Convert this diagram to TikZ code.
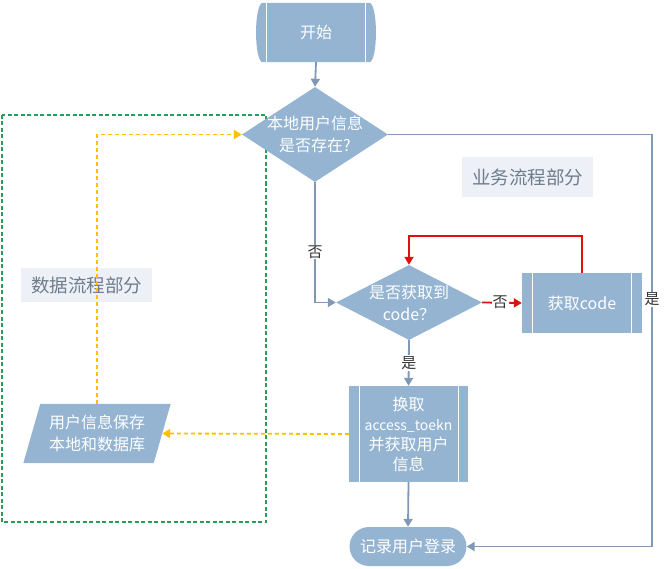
\documentclass[tikz,border=0pt]{standalone}
\usepackage{fontspec}
\setmainfont{Noto Sans CJK SC}
\usetikzlibrary{shapes.geometric,arrows.meta,backgrounds}
\definecolor{nodefill}{HTML}{94B4D2}
\definecolor{conn}{HTML}{7F98B4}
\definecolor{redc}{HTML}{E01010}
\definecolor{yellowc}{HTML}{FFC000}
\definecolor{greenc}{HTML}{22A05A}
\definecolor{labelbg}{HTML}{EDF1F7}
\definecolor{labeltext}{HTML}{6E7C8C}
\begin{document}
\begin{tikzpicture}[x=1pt,y=-1pt,
  txt/.style={text=white,font=\fontsize{16}{22}\selectfont,align=center,inner sep=0pt},
  procbox/.style={rectangle,fill=nodefill,text=white,font=\fontsize{16}{20}\selectfont,align=center,inner sep=0pt},
  decision/.style={diamond,fill=nodefill,inner sep=0pt},
  conline/.style={draw=conn,line width=1.8pt,-{Triangle[width=9pt,length=8pt]}},
  redline/.style={draw=redc,line width=1.8pt,-{Triangle[width=9pt,length=8pt]}},
  yelline/.style={draw=yellowc,line width=1.8pt,dash pattern=on 4pt off 3pt,-{Triangle[width=9pt,length=8pt]}},
  edgelab/.style={fill=white,text=black!80,font=\fontsize{15}{16}\selectfont,inner sep=1pt},
  grouplab/.style={fill=labelbg,text=labeltext,font=\fontsize{18.5}{20}\selectfont,inner sep=0pt}
]
\useasboundingbox (0,0) rectangle (669,569);

% group frame
\draw[greenc,line width=1.8pt,dash pattern=on 4pt off 2.5pt] (2,115) rectangle (266,522);

% start terminal
\node[txt,minimum width=106pt,minimum height=59pt] (start) at (316,32.5) {开始};
\begin{scope}[on background layer]
\fill[nodefill] (start.north west) .. controls +(-9,0) and +(-9,0) .. (start.south west)
  -- (start.south east) .. controls +(9,0) and +(9,0) .. (start.north east) -- cycle;
\end{scope}
\draw[white,line width=1pt] ([xshift=4pt]start.north west) -- ([xshift=4pt]start.south west);
\draw[white,line width=1pt] ([xshift=-4pt]start.north east) -- ([xshift=-4pt]start.south east);

% decision 1
\node[decision,minimum width=146pt,minimum height=95pt] (d1) at (315,134.5) {};
\node[txt] (d1t) at (d1) {本地用户信息\\是否存在?};

% decision 2
\node[decision,minimum width=146pt,minimum height=75pt] (d2) at (409,302.5) {};
\node[txt] (d2t) at (d2) {是否获取到\\code？};

% get code
\node[procbox,minimum width=120pt,minimum height=60pt] (gc) at (582,303) {获取code};
\draw[white,line width=1pt] ([xshift=11pt]gc.north west) -- ([xshift=11pt]gc.south west);
\draw[white,line width=1pt] ([xshift=-11pt]gc.north east) -- ([xshift=-11pt]gc.south east);

% exchange token
\node[procbox,minimum width=119pt,minimum height=96pt] (b2) at (408.5,434) {换取\\{\fontsize{14}{20}\selectfont access\_toekn}\\并获取用户\\信息};
\draw[white,line width=1pt] ([xshift=11pt]b2.north west) -- ([xshift=11pt]b2.south west);
\draw[white,line width=1pt] ([xshift=-10pt]b2.north east) -- ([xshift=-10pt]b2.south east);

% end terminal
\node[procbox,minimum width=117pt,minimum height=39pt,rounded corners=19.5pt] (end) at (408,546.5) {记录用户登录};

% parallelogram
\node[txt,minimum width=130pt,minimum height=59pt] (p) at (97,433.5) {用户信息保存\\本地和数据库};
\begin{scope}[on background layer]
\fill[nodefill] ([xshift=8.5pt]p.north west) -- ([xshift=8.5pt]p.north east)
  -- ([xshift=-8.5pt]p.south east) -- ([xshift=-8.5pt]p.south west) -- cycle;
\end{scope}

% group labels
\node[grouplab,minimum width=131pt,minimum height=34pt] (lab1) at (86.5,285) {数据流程部分};
\node[grouplab,minimum width=131pt,minimum height=40pt] (lab2) at (527.5,177) {业务流程部分};

% connectors
\coordinate (c1) at (652,134.5);
\coordinate (loopy) at (500,236);
\draw[conline] (start.south) -- (d1.north);
\draw[conline] (d1.south) -- node[edgelab,pos=0.58]{否} (d1.south |- d2.west) -- (d2.west);
\draw[conline] (d1.east) -- (c1) |- node[edgelab,pos=0.2]{是} (end.east);
\draw[conline] (d2.south) -- node[edgelab]{是} (b2.north);
\draw[conline] (b2.south) -- (end.north);
\draw[redline] (d2.east) -- node[edgelab,pos=0.45,text=black!80]{否} (gc.west);
\draw[redline] (gc.north) -- (gc.north |- loopy) -| (d2.north);
\draw[yelline] (b2.west) -- (p.east);
\draw[yelline] (p.north) -- (p.north |- d1.west) -- (d1.west);
\end{tikzpicture}
\end{document}
